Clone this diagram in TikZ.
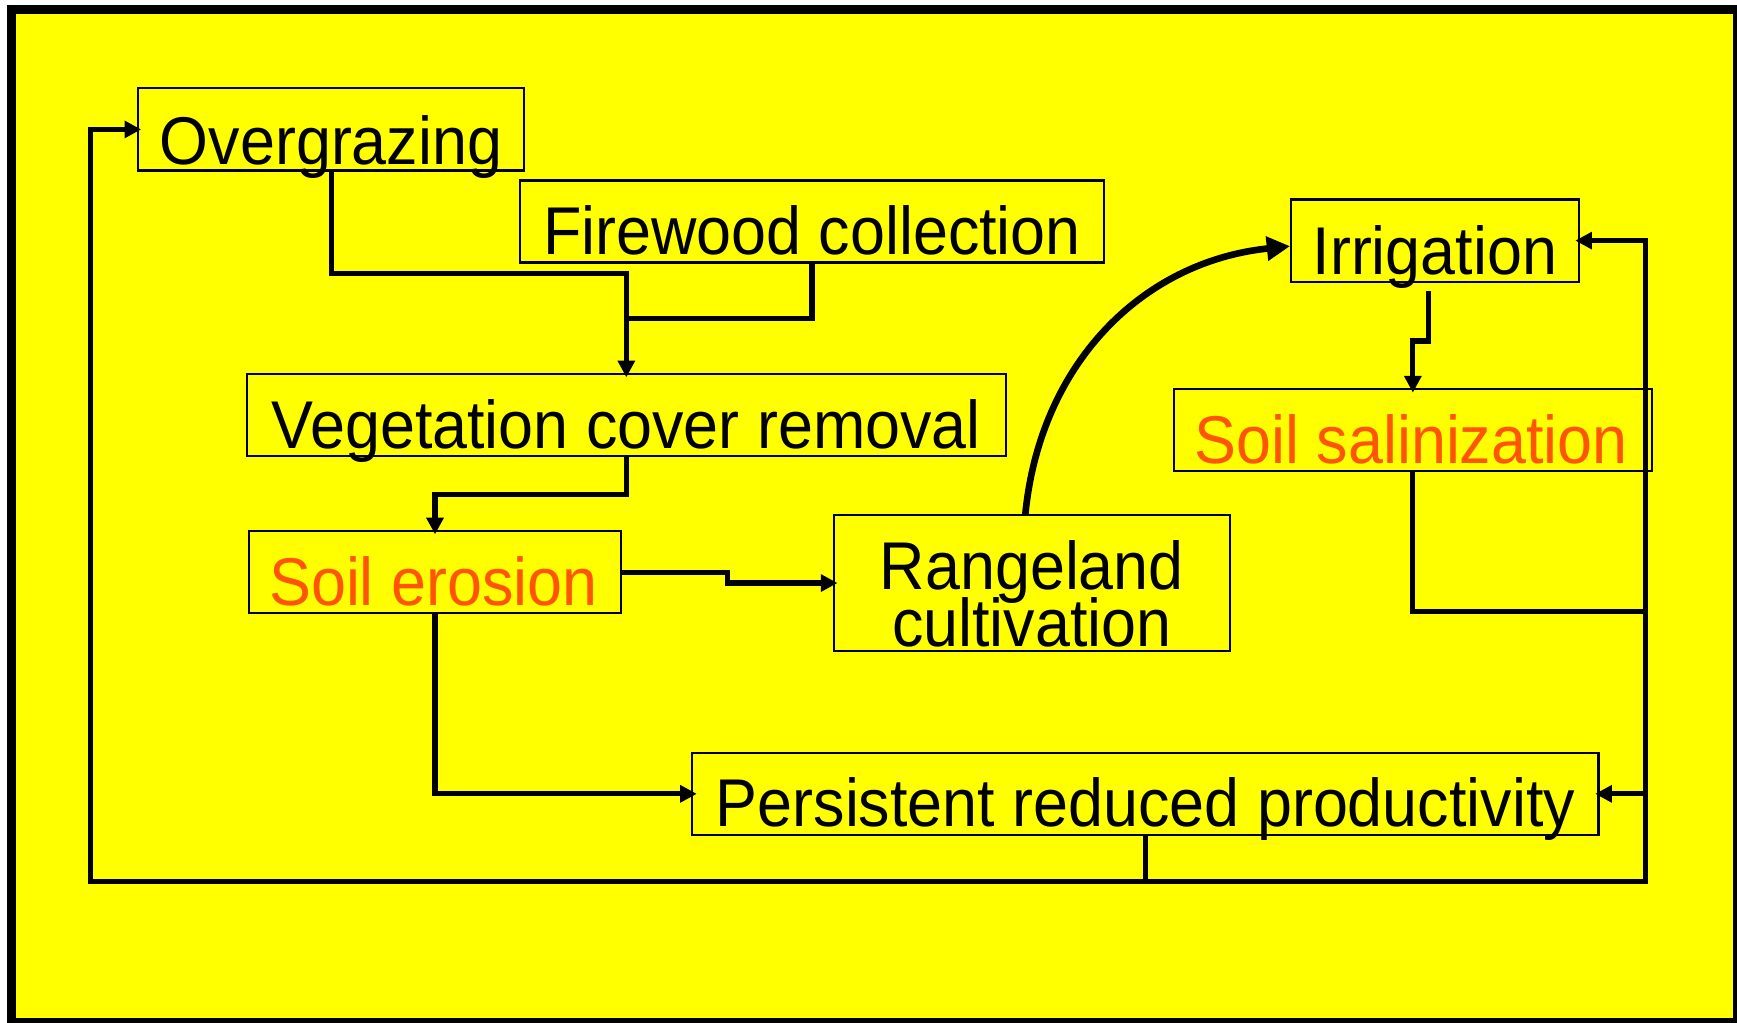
\documentclass[tikz,border=0pt]{standalone}
\usepackage{fontspec}
\setmainfont{Liberation Sans}[FakeStretch=0.93]
\usetikzlibrary{arrows.meta,calc}
\definecolor{bgyellow}{RGB}{255,255,0}
\definecolor{txtorange}{RGB}{255,85,0}
\begin{document}
\begin{tikzpicture}[x=1pt,y=-1pt,
  box/.style={draw=black, line width=2pt, inner sep=0pt},
  txt/.style={font=\fontsize{61}{52}\selectfont, inner sep=0pt, anchor=base},
  hot/.style={text=txtorange},
  conn/.style={line width=4.6pt},
  tip/.style={-{Triangle[length=15pt,width=15pt]}},
  bigtip/.style={-{Triangle[length=21pt,width=21pt]}}
]
\useasboundingbox (0,0) rectangle (1568,923);
\clip (0,0) rectangle (1568,923);
\fill[white] (0,0) rectangle (1568,923);
\fill[bgyellow] (6.3,4.5) rectangle (1568,923);
\draw[line width=7.7pt] (10.15,8.35) rectangle (1568,923);

% boxes
\node[box, minimum width=348.9pt, minimum height=74.3pt] (og)  at (298.85,116.85) {};
\node[box, minimum width=527pt,   minimum height=74pt]   (fw)  at (733,200) {};
\node[box, minimum width=259.5pt, minimum height=74.3pt] (irr) at (1295.3,217.2) {};
\node[box, minimum width=685.2pt, minimum height=74pt]   (veg) at (565.4,374.6) {};
\node[box, minimum width=431.9pt, minimum height=73.8pt] (sal) at (1275.4,388.3) {};
\node[box, minimum width=335.6pt, minimum height=74.3pt] (ero) at (392.7,516.5) {};
\node[box, minimum width=357pt,   minimum height=122.8pt] (ran) at (931.5,526.3) {};
\node[box, minimum width=818pt,   minimum height=74.4pt] (per) at (1034,716.6) {};

% texts
\node[txt] (ogt)  at ($(og.south)+(0,-6.8)$)  {Overgrazing};
\node[txt] (fwt)  at ($(fw.south)+(0,-8)$)    {Firewood collection};
\node[txt] (irrt) at ($(irr.south)+(0,-7.6)$) {Irrigation};
\node[txt] (vegt) at ($(veg.south)+(0,-7.6)$) {Vegetation cover removal};
\node[txt,hot] (salt) at ($(sal.south)+(-1.5,-7.6)$) {Soil salinization};
\node[txt,hot] (erot) at ($(ero.south)+(-1.5,-8.4)$) {Soil erosion};
\node[txt] (rant) at ($(ran.south)+(0,-4.8)$)
  {\begin{tabular}[b]{@{}c@{}}Rangeland\\[-8pt]cultivation\end{tabular}};
\node[txt] (pert) at ($(per.south)+(0,-9.1)$) {Persistent reduced productivity};

% connectors
\coordinate (j1) at (565.4,287.4);
\coordinate (rj) at (1485,552.2);
\coordinate (rb) at (1485,796);
\coordinate (lb) at (82,796);

\draw[conn,tip] (og.south) -- ++(0,92) -| ([yshift=-4pt]veg.north);
\draw[conn] (fw.south) |- (j1);
\draw[conn,tip] (veg.south) -- ++(0,33.7) -| ([yshift=-4pt]ero.north);
\draw[conn,tip] (ero.east) -| ($(ero.east)!0.5!(ran.west)$) |- ([xshift=4pt]ran.west);
\draw[conn,tip] (ero.south) |- ([xshift=5pt]per.west);
\draw[line width=6pt,bigtip] ([xshift=-6pt,yshift=-1pt]ran.north) .. controls +(13,-136) and +(-134,14) .. ([yshift=-5pt]irr.west);
\draw[conn,tip] ($(irr.south)+(-5.5,7.5)$) -- ++(0,45) -| ([yshift=-4pt]sal.north);
\draw[conn] (sal.south) |- (rj);
\draw[conn,tip] (per.south) |- (rb) |- ([xshift=-4pt]irr.east);
\draw[conn,tip] (rb) |- ([xshift=-4pt]per.east);
\draw[conn,tip] (per.south) |- (lb) |- ([xshift=4pt]og.west);
\end{tikzpicture}
\end{document}
